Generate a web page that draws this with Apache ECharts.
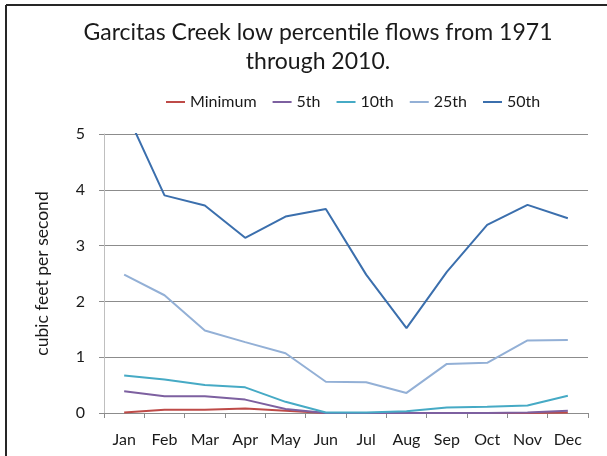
<!DOCTYPE html>
<html><head><meta charset="utf-8">
<script src="https://cdn.jsdelivr.net/npm/echarts@6/dist/echarts.min.js"></script>
<style>html,body{margin:0;padding:0;background:#fff}#c{width:607px;height:456px}</style>
</head><body><div id="c"></div>
<script>
const months = ['Jan','Feb','Mar','Apr','May','Jun','Jul','Aug','Sep','Oct','Nov','Dec'];
const seriesNames = ['Minimum','5th','10th','25th','50th'];
const minimum = [0.01,0.06,0.06,0.08,0.04,0.0,0.0,0.0,0.0,0.0,0.0,0.01];
const p5 = [0.39,0.30,0.30,0.24,0.07,0.0,0.0,0.0,0.0,0.0,0.01,0.04];
const p10 = [0.67,0.60,0.50,0.46,0.20,0.01,0.01,0.03,0.10,0.11,0.135,0.31];
const p25 = [2.48,2.11,1.48,1.27,1.07,0.56,0.55,0.36,0.88,0.90,1.30,1.31];
const p50 = [5.47,3.90,3.72,3.14,3.52,3.655,2.48,1.52,2.53,3.37,3.73,3.49];
const yTicks = [0,1,2,3,4,5];
const colors = ['#BE4B48','#7D60A0','#46AAC5','#93B0D6','#3B6FAD'];
const dataAll = [minimum,p5,p10,p25,p50];
const FONT = 'Lato';
const chart = echarts.init(document.getElementById('c'));
chart.setOption({
  animation:false,
  textStyle:{fontFamily:FONT},
  title:{text:'Garcitas Creek low percentile flows from 1971\nthrough 2010.',left:313,top:13,textAlign:'center',
    textStyle:{fontFamily:FONT,fontSize:23,fontWeight:'normal',color:'#1a1a1a',lineHeight:29}},
  legend:{left:161,top:89,itemWidth:19,itemHeight:2,itemGap:16,icon:'rect',
    textStyle:{fontFamily:FONT,fontSize:16,color:'#1a1a1a'},data:seriesNames},
  grid:{left:104,right:19,top:134,bottom:43},
  xAxis:{type:'category',data:months,boundaryGap:true,
    axisLine:{lineStyle:{color:'#8C8C8C',width:1}},
    axisTick:{show:true,length:5,lineStyle:{color:'#8C8C8C'}},
    axisLabel:{fontFamily:FONT,fontSize:16,color:'#1a1a1a',margin:19,interval:0}},
  yAxis:{type:'value',min:yTicks[0],max:yTicks[yTicks.length-1],interval:1,
    name:'cubic feet per second',nameLocation:'middle',nameGap:53,
    nameTextStyle:{fontFamily:FONT,fontSize:17.5,color:'#1a1a1a'},
    axisLine:{show:true,lineStyle:{color:'#BFBFBF'}},
    axisTick:{show:true,length:5,lineStyle:{color:'#8C8C8C'}},
    splitLine:{lineStyle:{color:'#8C8C8C'}},
    axisLabel:{fontFamily:FONT,fontSize:16,color:'#1a1a1a',margin:19}},
  series:seriesNames.map((n,i)=>({name:n,type:'line',data:dataAll[i],symbol:'none',clip:true,
    lineStyle:{color:colors[i],width:2},itemStyle:{color:colors[i]},z:2+i})),
  graphic:[
    {type:'line',shape:{x1:6,y1:5,x2:607,y2:5},style:{stroke:'#262626',lineWidth:2}},
    {type:'line',shape:{x1:6,y1:5,x2:6,y2:456},style:{stroke:'#262626',lineWidth:2}}
  ]
});
</script></body></html>
